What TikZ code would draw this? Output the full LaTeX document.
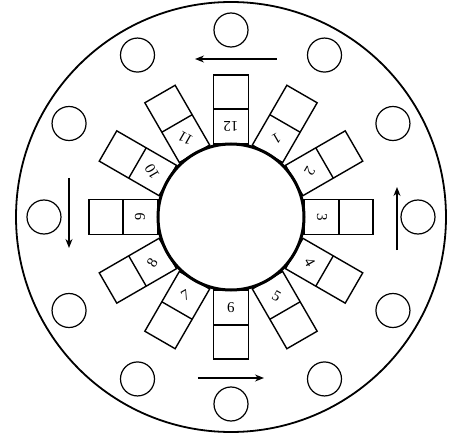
\documentclass[tikz,border=0pt]{standalone}
\usepackage{fontspec}
\setmainfont{Liberation Serif}
\usetikzlibrary{arrows.meta}

\begin{document}
\begin{tikzpicture}[x=1pt, y=1pt,
    slot/.style={line width=1.4pt},
    ball/.style={line width=1.2pt},
    num/.style={inner sep=0pt, font=\fontsize{15}{15}\selectfont},
    turn/.style={line width=1.4pt, -{Stealth[length=9pt, width=7pt]}}]
    \useasboundingbox (-231,-217) rectangle (227,217);

    \draw[line width=1.8pt] (0,0) circle (215);

    \foreach \k in {1,...,12}{
        \pgfmathsetmacro{\ang}{90-30*\k}
        \begin{scope}[rotate=\ang]
            \draw[slot] (73,-17.5) rectangle (142,17.5);
            \draw[slot] (108,-17.5) -- (108,17.5);
        \end{scope}
        \node[num, rotate={30*\k-180}] (n\k) at (\ang:91) {\k};
        \draw[ball] (\ang:187) circle (17);
    }

    \draw[line width=3pt, fill=white] (0,0) circle (73);

    \draw[turn] (46,158) -- (-36,158);
    \draw[turn] (166,-33) -- (166,30);
    \draw[turn] (-33,-161) -- (33,-161);
    \draw[turn] (-162,39) -- (-162,-31);

\end{tikzpicture}
\end{document}
